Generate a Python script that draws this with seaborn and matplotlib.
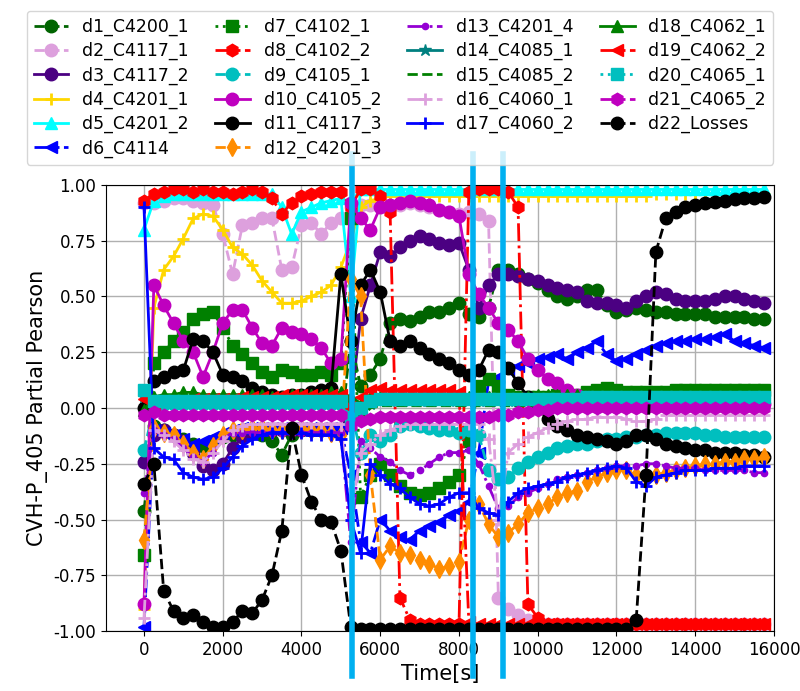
import numpy as np
import pandas as pd
import seaborn as sns
import matplotlib
matplotlib.use("Agg")
import matplotlib.pyplot as plt

# sample times [s], one sample every 250 s
time_s = list(range(0, 16000, 250))

d1_C4200_1 = [-0.46, -0.08, -0.10, -0.12, -0.14, -0.16, -0.17, -0.15,
              -0.13, -0.12, -0.11, -0.11, -0.12, -0.15, -0.21, -0.12,
              -0.10, -0.10, -0.10, -0.10, -0.10, 0.30, 0.10, 0.15,
              0.22, 0.38, 0.40, 0.39, 0.41, 0.43, 0.43, 0.45,
              0.47, 0.42, 0.41, 0.45, 0.62, 0.62, 0.60, 0.58,
              0.56, 0.53, 0.50, 0.49, 0.50, 0.53, 0.53, 0.46,
              0.43, 0.44, 0.45, 0.44, 0.43, 0.43, 0.42, 0.42,
              0.42, 0.42, 0.41, 0.41, 0.41, 0.41, 0.40, 0.40]
d2_C4117_1 = [0.92, 0.92, 0.93, 0.94, 0.94, 0.93, 0.92, 0.91,
              0.78, 0.60, 0.82, 0.83, 0.85, 0.85, 0.62, 0.63,
              0.82, 0.83, 0.78, 0.83, 0.85, 0.90, 0.91, 0.91,
              0.90, 0.90, 0.91, 0.92, 0.91, 0.90, 0.89, 0.88,
              0.87, 0.88, 0.87, 0.84, -0.85, -0.90, -0.93, -0.95,
              -0.97, -0.97, -0.97, -0.97, -0.97, -0.97, -0.97, -0.97,
              -0.97, -0.97, -0.97, -0.97, -0.97, -0.97, -0.97, -0.97,
              -0.97, -0.97, -0.97, -0.97, -0.97, -0.97, -0.97, -0.97]
d3_C4117_2 = [-0.24, -0.12, -0.10, -0.12, -0.15, -0.20, -0.26, -0.28,
              -0.25, -0.18, -0.13, -0.11, -0.10, -0.10, -0.10, -0.10,
              -0.10, -0.10, -0.10, -0.10, -0.10, 0.00, 0.40, 0.55,
              0.70, 0.68, 0.72, 0.75, 0.77, 0.76, 0.74, 0.73,
              0.74, 0.62, 0.45, 0.55, 0.60, 0.60, 0.59, 0.58,
              0.57, 0.55, 0.54, 0.53, 0.52, 0.48, 0.47, 0.47,
              0.46, 0.45, 0.48, 0.50, 0.52, 0.51, 0.49, 0.48,
              0.48, 0.48, 0.49, 0.50, 0.50, 0.49, 0.48, 0.47]
d4_C4201_1 = [-0.90, 0.45, 0.62, 0.68, 0.76, 0.85, 0.87, 0.86,
              0.80, 0.72, 0.69, 0.64, 0.57, 0.52, 0.47, 0.47,
              0.48, 0.50, 0.52, 0.55, 0.63, 0.75, 0.90, 0.93,
              0.94, 0.95, 0.95, 0.95, 0.95, 0.95, 0.95, 0.95,
              0.95, 0.95, 0.95, 0.95, 0.95, 0.95, 0.95, 0.95,
              0.95, 0.95, 0.95, 0.95, 0.95, 0.95, 0.95, 0.95,
              0.95, 0.95, 0.95, 0.95, 0.96, 0.96, 0.96, 0.96,
              0.96, 0.96, 0.96, 0.96, 0.96, 0.96, 0.96, 0.96]
d5_C4201_2 = [0.80, 0.93, 0.95, 0.96, 0.96, 0.96, 0.96, 0.96,
              0.96, 0.96, 0.96, 0.96, 0.96, 0.96, 0.90, 0.78,
              0.88, 0.90, 0.92, 0.93, 0.94, 0.50, 0.98, 0.98,
              0.98, 0.98, 0.98, 0.98, 0.98, 0.98, 0.98, 0.98,
              0.98, 0.98, 0.98, 0.98, 0.98, 0.98, 0.98, 0.98,
              0.98, 0.98, 0.98, 0.98, 0.98, 0.98, 0.98, 0.98,
              0.98, 0.98, 0.98, 0.98, 0.98, 0.98, 0.98, 0.98,
              0.98, 0.98, 0.98, 0.98, 0.98, 0.98, 0.98, 0.98]
d6_C4114 = [-0.98, -0.10, -0.11, -0.12, -0.14, -0.16, -0.15, -0.13,
            -0.11, -0.10, -0.09, -0.09, -0.09, -0.09, -0.09, -0.09,
            -0.09, -0.09, -0.09, -0.09, -0.09, -0.30, -0.60, -0.65,
            -0.50, -0.55, -0.58, -0.59, -0.55, -0.53, -0.51, -0.48,
            -0.46, -0.42, -0.20, 0.12, 0.14, 0.17, 0.19, 0.20,
            0.22, 0.23, 0.24, 0.22, 0.25, 0.27, 0.30, 0.24,
            0.21, 0.22, 0.24, 0.26, 0.28, 0.29, 0.30, 0.30,
            0.31, 0.31, 0.32, 0.33, 0.30, 0.29, 0.28, 0.27]
d7_C4102_1 = [-0.66, 0.20, 0.25, 0.30, 0.34, 0.40, 0.42, 0.43,
              0.36, 0.28, 0.24, 0.20, 0.16, 0.14, 0.17, 0.16,
              0.15, 0.15, 0.16, 0.15, 0.20, 0.85, -0.40, -0.30,
              -0.25, -0.30, -0.35, -0.38, -0.39, -0.38, -0.36, -0.33,
              -0.30, -0.15, 0.10, 0.13, 0.10, 0.06, 0.05, 0.05,
              0.05, 0.05, 0.06, 0.06, 0.06, 0.07, 0.08, 0.09,
              0.08, 0.07, 0.07, 0.07, 0.07, 0.07, 0.08, 0.08,
              0.08, 0.08, 0.08, 0.08, 0.08, 0.08, 0.08, 0.08]
d8_C4102_2 = [0.93, 0.96, 0.97, 0.98, 0.98, 0.97, 0.98, 0.97,
              0.97, 0.96, 0.97, 0.98, 0.97, 0.94, 0.87, 0.92,
              0.95, 0.96, 0.97, 0.97, 0.97, 0.90, 0.98, 0.98,
              0.95, 0.88, -0.85, -0.95, -0.97, -0.97, -0.97, -0.97,
              -0.97, 0.97, 0.98, 0.98, 0.98, 0.97, 0.90, -0.88,
              -0.94, -0.97, -0.97, -0.97, -0.97, -0.97, -0.97, -0.97,
              -0.97, -0.97, -0.97, -0.97, -0.97, -0.97, -0.97, -0.97,
              -0.97, -0.97, -0.97, -0.97, -0.97, -0.97, -0.97, -0.97]
d9_C4105_1 = [-0.19, 0.00, 0.02, 0.02, 0.02, 0.02, 0.02, 0.02,
              0.02, 0.02, 0.02, 0.02, 0.02, 0.02, 0.02, 0.02,
              0.02, 0.02, 0.02, 0.02, 0.02, 0.00, -0.20, -0.12,
              -0.15, -0.12, -0.08, -0.07, -0.08, -0.09, -0.10, -0.10,
              -0.11, -0.10, -0.12, -0.28, -0.32, -0.31, -0.27, -0.24,
              -0.22, -0.20, -0.18, -0.17, -0.16, -0.16, -0.15, -0.14,
              -0.14, -0.13, -0.13, -0.12, -0.12, -0.11, -0.11, -0.11,
              -0.11, -0.12, -0.12, -0.13, -0.13, -0.13, -0.13, -0.13]
d10_C4105_2 = [-0.88, 0.55, 0.46, 0.38, 0.30, 0.25, 0.14, 0.25,
               0.38, 0.44, 0.44, 0.36, 0.29, 0.28, 0.36, 0.34,
               0.33, 0.31, 0.27, 0.20, 0.22, 0.92, 0.85, 0.80,
               0.90, 0.91, 0.92, 0.93, 0.92, 0.91, 0.89, 0.88,
               0.86, 0.60, 0.51, 0.45, 0.38, 0.35, 0.30, 0.22,
               0.17, 0.13, 0.11, 0.08, 0.06, 0.05, 0.04, 0.03,
               0.02, 0.02, 0.02, 0.02, 0.02, 0.02, 0.02, 0.02,
               0.02, 0.02, 0.02, 0.02, 0.02, 0.02, 0.02, 0.02]
d11_C4117_3 = [0.00, 0.12, 0.14, 0.16, 0.17, 0.31, 0.30, 0.25,
               0.15, 0.14, 0.12, 0.09, 0.07, 0.06, 0.05, 0.06,
               0.06, 0.07, 0.08, 0.09, 0.60, 0.30, 0.55, 0.62,
               0.52, 0.30, 0.28, 0.30, 0.27, 0.24, 0.22, 0.20,
               0.17, 0.15, 0.17, 0.26, 0.25, 0.18, 0.11, 0.05,
               0.00, -0.05, -0.08, -0.10, -0.12, -0.13, -0.14, -0.15,
               -0.16, -0.15, -0.12, -0.12, -0.14, -0.16, -0.17, -0.18,
               -0.19, -0.19, -0.20, -0.20, -0.20, -0.21, -0.21, -0.22]
d12_C4201_3 = [-0.59, -0.09, -0.11, -0.12, -0.16, -0.20, -0.23, -0.17,
               -0.12, -0.10, -0.10, -0.09, -0.09, -0.10, -0.10, -0.10,
               -0.09, -0.10, -0.10, -0.11, -0.12, 0.58, 0.50, -0.30,
               -0.68, -0.62, -0.65, -0.66, -0.68, -0.70, -0.72, -0.71,
               -0.69, -0.50, -0.43, -0.52, -0.58, -0.56, -0.52, -0.47,
               -0.45, -0.43, -0.40, -0.38, -0.37, -0.33, -0.31, -0.29,
               -0.28, -0.28, -0.30, -0.31, -0.30, -0.29, -0.28, -0.27,
               -0.26, -0.25, -0.25, -0.24, -0.24, -0.23, -0.23, -0.22]
d13_C4201_4 = [-0.38, -0.10, -0.12, -0.14, -0.18, -0.22, -0.24, -0.20,
               -0.14, -0.11, -0.11, -0.11, -0.11, -0.11, -0.11, -0.11,
               -0.11, -0.11, -0.11, -0.11, -0.11, -0.60, -0.15, -0.18,
               -0.22, -0.24, -0.28, -0.30, -0.28, -0.25, -0.22, -0.20,
               -0.20, -0.19, -0.25, -0.35, -0.45, -0.44, -0.40, -0.38,
               -0.36, -0.34, -0.32, -0.31, -0.30, -0.29, -0.28, -0.27,
               -0.26, -0.26, -0.26, -0.25, -0.25, -0.26, -0.27, -0.27,
               -0.27, -0.28, -0.28, -0.28, -0.28, -0.28, -0.29, -0.29]
d14_C4085_1 = [0.05, 0.03, 0.04, 0.04, 0.04, 0.05, 0.05, 0.04,
               0.04, 0.04, 0.04, 0.04, 0.04, 0.04, 0.04, 0.04,
               0.04, 0.04, 0.04, 0.04, 0.04, 0.04, -0.02, 0.02,
               0.03, 0.03, 0.03, 0.03, 0.03, 0.03, 0.03, 0.03,
               0.03, 0.03, 0.03, 0.03, 0.03, 0.03, 0.03, 0.03,
               0.03, 0.03, 0.03, 0.03, 0.03, 0.03, 0.03, 0.03,
               0.03, 0.03, 0.03, 0.03, 0.03, 0.03, 0.03, 0.03,
               0.03, 0.03, 0.03, 0.03, 0.03, 0.03, 0.03, 0.03]
d15_C4085_2 = [0.00, 0.01, 0.01, 0.01, 0.01, 0.01, 0.01, 0.01,
               0.01, 0.01, 0.01, 0.01, 0.01, 0.01, 0.01, 0.01,
               0.01, 0.01, 0.01, 0.01, 0.01, 0.01, -0.05, 0.00,
               0.01, 0.01, 0.01, 0.01, 0.01, 0.01, 0.01, 0.01,
               0.01, 0.01, 0.01, 0.01, 0.01, 0.01, 0.01, 0.01,
               0.01, 0.01, 0.01, 0.01, 0.01, 0.01, 0.01, 0.01,
               0.01, 0.01, 0.01, 0.01, 0.01, 0.01, 0.01, 0.01,
               0.01, 0.01, 0.01, 0.01, 0.01, 0.01, 0.01, 0.01]
d16_C4060_1 = [-0.94, -0.10, -0.12, -0.15, -0.19, -0.23, -0.24, -0.20,
               -0.15, -0.10, -0.08, -0.07, -0.07, -0.07, -0.07, -0.07,
               -0.07, -0.07, -0.07, -0.07, -0.07, -0.50, -0.20, -0.16,
               -0.12, -0.10, -0.08, -0.07, -0.07, -0.07, -0.07, -0.07,
               -0.07, -0.07, -0.07, -0.14, -0.50, -0.20, -0.16, -0.13,
               -0.11, -0.09, -0.07, -0.06, -0.05, -0.05, -0.04, -0.04,
               -0.04, -0.05, -0.06, -0.06, -0.05, -0.03, -0.03, -0.03,
               -0.03, -0.03, -0.03, -0.03, -0.03, -0.03, -0.03, -0.03]
d17_C4060_2 = [0.90, -0.18, -0.22, -0.23, -0.29, -0.31, -0.32, -0.31,
               -0.27, -0.22, -0.17, -0.14, -0.12, -0.11, -0.11, -0.11,
               -0.11, -0.12, -0.12, -0.12, -0.14, -0.50, -0.65, -0.25,
               -0.30, -0.34, -0.36, -0.40, -0.43, -0.44, -0.43, -0.40,
               -0.38, -0.38, -0.45, -0.47, -0.48, -0.42, -0.38, -0.36,
               -0.35, -0.34, -0.33, -0.31, -0.30, -0.29, -0.28, -0.27,
               -0.26, -0.27, -0.33, -0.35, -0.31, -0.30, -0.29, -0.28,
               -0.28, -0.28, -0.27, -0.27, -0.27, -0.26, -0.26, -0.26]
d18_C4062_1 = [-0.01, 0.05, 0.06, 0.06, 0.07, 0.07, 0.06, 0.06,
               0.06, 0.06, 0.06, 0.06, 0.06, 0.05, 0.05, 0.06,
               0.06, 0.06, 0.06, 0.07, 0.07, 0.05, 0.02, 0.05,
               0.05, 0.05, 0.05, 0.05, 0.05, 0.05, 0.05, 0.05,
               0.05, 0.05, 0.05, 0.05, 0.05, 0.05, 0.05, 0.05,
               0.06, 0.06, 0.06, 0.06, 0.06, 0.06, 0.06, 0.06,
               0.06, 0.06, 0.06, 0.06, 0.07, 0.07, 0.07, 0.07,
               0.07, 0.07, 0.07, 0.07, 0.07, 0.07, 0.07, 0.07]
d19_C4062_2 = [0.04, 0.02, 0.03, 0.03, 0.03, 0.04, 0.04, 0.04,
               0.04, 0.04, 0.05, 0.05, 0.05, 0.05, 0.06, 0.06,
               0.06, 0.06, 0.06, 0.06, 0.06, 0.00, 0.05, 0.08,
               0.09, 0.08, 0.08, 0.08, 0.08, 0.08, 0.08, 0.08,
               0.07, -0.96, -0.97, -0.97, -0.97, -0.97, -0.97, -0.97,
               -0.97, -0.97, -0.97, -0.97, -0.97, -0.97, -0.97, -0.97,
               -0.97, -0.97, -0.97, -0.97, -0.97, -0.97, -0.97, -0.97,
               -0.97, -0.97, -0.97, -0.97, -0.97, -0.97, -0.97, -0.97]
d20_C4065_1 = [0.08, 0.03, 0.03, 0.03, 0.03, 0.03, 0.03, 0.03,
               0.03, 0.03, 0.03, 0.03, 0.03, 0.03, 0.03, 0.03,
               0.03, 0.03, 0.03, 0.03, 0.03, -0.05, 0.00, 0.03,
               0.04, 0.04, 0.04, 0.04, 0.04, 0.04, 0.04, 0.04,
               0.04, 0.04, 0.04, 0.04, 0.04, 0.04, 0.04, 0.04,
               0.04, 0.04, 0.04, 0.04, 0.04, 0.05, 0.05, 0.05,
               0.05, 0.05, 0.05, 0.05, 0.05, 0.05, 0.05, 0.05,
               0.05, 0.05, 0.05, 0.05, 0.05, 0.05, 0.05, 0.05]
d21_C4065_2 = [-0.03, -0.02, -0.03, -0.03, -0.03, -0.03, -0.03, -0.03,
               -0.03, -0.03, -0.03, -0.03, -0.03, -0.03, -0.03, -0.03,
               -0.03, -0.03, -0.03, -0.03, -0.03, -0.08, -0.06, -0.05,
               -0.04, -0.04, -0.04, -0.04, -0.04, -0.04, -0.04, -0.04,
               -0.04, -0.04, -0.04, -0.04, -0.03, -0.03, -0.02, -0.02,
               -0.01, -0.01, 0.00, 0.00, 0.00, 0.00, 0.00, 0.00,
               0.00, 0.00, 0.00, 0.00, 0.00, 0.00, 0.00, 0.00,
               0.00, 0.00, 0.00, 0.00, 0.00, 0.00, 0.00, 0.00]
d22_Losses = [-0.34, -0.25, -0.82, -0.91, -0.94, -0.93, -0.96, -0.98,
              -0.98, -0.96, -0.91, -0.92, -0.86, -0.75, -0.55, -0.09,
              -0.30, -0.42, -0.50, -0.51, -0.64, -0.98, -0.99, -0.99,
              -0.99, -0.99, -0.99, -0.99, -0.99, -0.99, -0.99, -0.99,
              -0.99, -0.99, -0.99, -0.99, -0.99, -0.99, -0.99, -0.99,
              -0.99, -0.99, -0.99, -0.99, -0.99, -0.99, -0.99, -0.99,
              -0.99, -0.99, -0.95, -0.30, 0.70, 0.85, 0.88, 0.90,
              0.91, 0.92, 0.925, 0.93, 0.935, 0.94, 0.94, 0.945]

# event markers (vertical lines) [s]
event_times = [5280, 8350, 9120]

series = [
    ("d1_C4200_1", d1_C4200_1, "darkgreen", "o", "--"),
    ("d2_C4117_1", d2_C4117_1, "plum", "o", "--"),
    ("d3_C4117_2", d3_C4117_2, "indigo", "o", "-"),
    ("d4_C4201_1", d4_C4201_1, "gold", "+", "-"),
    ("d5_C4201_2", d5_C4201_2, "cyan", "^", "-"),
    ("d6_C4114", d6_C4114, "blue", "<", "-."),
    ("d7_C4102_1", d7_C4102_1, "green", "s", ":"),
    ("d8_C4102_2", d8_C4102_2, "red", "h", "-."),
    ("d9_C4105_1", d9_C4105_1, "c", "o", "--"),
    ("d10_C4105_2", d10_C4105_2, "m", "o", "-"),
    ("d11_C4117_3", d11_C4117_3, "black", "o", "-"),
    ("d12_C4201_3", d12_C4201_3, "darkorange", "d", "--"),
    ("d13_C4201_4", d13_C4201_4, "darkviolet", ".", "-."),
    ("d14_C4085_1", d14_C4085_1, "teal", "*", "-"),
    ("d15_C4085_2", d15_C4085_2, "green", None, "--"),
    ("d16_C4060_1", d16_C4060_1, "plum", "+", "-."),
    ("d17_C4060_2", d17_C4060_2, "blue", "+", "-"),
    ("d18_C4062_1", d18_C4062_1, "green", "^", "-"),
    ("d19_C4062_2", d19_C4062_2, "red", "<", "-."),
    ("d20_C4065_1", d20_C4065_1, "c", "s", ":"),
    ("d21_C4065_2", d21_C4065_2, "m", "h", "-."),
    ("d22_Losses", d22_Losses, "black", "o", "--"),
]

fig = plt.figure(figsize=(8, 6.91), dpi=100)
ax = fig.add_axes([0.1325, 0.0868, 0.835, 0.6455])

for name, vals, col, mk, ls in series:
    df = pd.DataFrame({"t": time_s, "v": vals})
    kw = dict(color=col, linestyle=ls, linewidth=2, label=name)
    if mk is not None:
        kw.update(marker=mk, markersize=9, markeredgecolor=col,
                  markeredgewidth=2 if mk == "+" else 1)
    sns.lineplot(data=df, x="t", y="v", ax=ax, **kw)

if ax.get_legend() is not None:
    ax.get_legend().remove()

for et in event_times:
    ax.axvline(et, ymin=-0.1, ymax=1.07, clip_on=False, color="#00B0F0",
               linewidth=4, zorder=10)

ax.set_xlim(-965, 16000)
ax.set_ylim(-1, 1)
ax.set_xticks(range(0, 16001, 2000))
ax.set_yticks(np.arange(-1, 1.01, 0.25))
ax.yaxis.set_major_formatter(matplotlib.ticker.FormatStrFormatter("%.2f"))
ax.tick_params(labelsize=12)
ax.grid(True, color="#b0b0b0", linewidth=1)
ax.set_axisbelow(True)
ax.set_xlabel("Time[s]", fontsize=15)
ax.set_ylabel("CVH-P_405 Partial Pearson", fontsize=15)

handles, labels = ax.get_legend_handles_labels()
fig.legend(handles, labels, loc="upper center", bbox_to_anchor=(0.5, 0.997),
           ncol=4, fontsize=12.5, labelspacing=0.35, columnspacing=1.5)

fig.savefig("out.png", dpi=100)
